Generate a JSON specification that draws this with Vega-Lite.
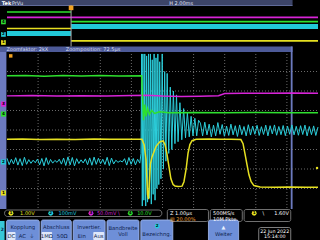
{
"$schema": "https://vega.github.io/schema/vega-lite/v6.json",
"width": 320, "height": 240, "autosize": "none", "padding": 0,
"background": "#000000",
"config": {"view": {"stroke": null}, "axis": {"disable": true}, "legend": {"disable": true}, "text": {"font": "DejaVu Sans", "fontSize": 5, "baseline": "middle"}},
"datasets": {
"main": [
{"c":"2","t":0.00,"v":-1.45},{"c":"2","t":0.07,"v":-1.78},{"c":"2","t":0.14,"v":-1.50},{"c":"2","t":0.21,"v":-1.74},{"c":"2","t":0.28,"v":-1.42},{"c":"2","t":0.35,"v":-1.80},{"c":"2","t":0.42,"v":-1.47},{"c":"2","t":0.49,"v":-1.83},{"c":"2","t":0.56,"v":-1.40},{"c":"2","t":0.63,"v":-1.76},{"c":"2","t":0.70,"v":-1.52},{"c":"2","t":0.77,"v":-1.71},{"c":"2","t":0.84,"v":-1.55},{"c":"2","t":0.91,"v":-1.68},{"c":"2","t":0.98,"v":-1.49},{"c":"2","t":1.05,"v":-1.79},{"c":"2","t":1.12,"v":-1.46},{"c":"2","t":1.19,"v":-1.84},{"c":"2","t":1.26,"v":-1.42},{"c":"2","t":1.33,"v":-1.77},{"c":"2","t":1.40,"v":-1.51},{"c":"2","t":1.47,"v":-1.70},{"c":"2","t":1.54,"v":-1.56},{"c":"2","t":1.61,"v":-1.66},{"c":"2","t":1.68,"v":-1.50},{"c":"2","t":1.75,"v":-1.75},{"c":"2","t":1.82,"v":-1.44},{"c":"2","t":1.89,"v":-1.82},{"c":"2","t":1.96,"v":-1.38},{"c":"2","t":2.03,"v":-1.79},{"c":"2","t":2.10,"v":-1.41},{"c":"2","t":2.17,"v":-1.84},{"c":"2","t":2.24,"v":-1.47},{"c":"2","t":2.31,"v":-1.72},{"c":"2","t":2.38,"v":-1.53},{"c":"2","t":2.45,"v":-1.69},{"c":"2","t":2.52,"v":-1.48},{"c":"2","t":2.59,"v":-1.78},{"c":"2","t":2.66,"v":-1.43},{"c":"2","t":2.73,"v":-1.81},{"c":"2","t":2.80,"v":-1.39},{"c":"2","t":2.87,"v":-1.76},{"c":"2","t":2.94,"v":-1.45},{"c":"2","t":3.01,"v":-1.73},{"c":"2","t":3.08,"v":-1.50},{"c":"2","t":3.15,"v":-1.77},{"c":"2","t":3.22,"v":-1.40},{"c":"2","t":3.29,"v":-1.83},{"c":"2","t":3.36,"v":-1.44},{"c":"2","t":3.43,"v":-1.74},{"c":"2","t":3.50,"v":-1.55},{"c":"2","t":3.57,"v":-1.66},{"c":"2","t":3.64,"v":-1.58},{"c":"2","t":3.71,"v":-1.64},{"c":"2","t":3.78,"v":-1.47},{"c":"2","t":3.85,"v":-1.80},{"c":"2","t":3.92,"v":-1.41},{"c":"2","t":3.99,"v":-1.76},{"c":"2","t":4.06,"v":-1.46},{"c":"2","t":4.13,"v":-1.79},{"c":"2","t":4.20,"v":-1.50},{"c":"2","t":4.27,"v":-1.70},
{"c":"2","t":4.31,"v":-1.2},{"c":"2","t":4.33,"v":3.9},{"c":"2","t":4.35,"v":-3.9},{"c":"2","t":4.37,"v":3.9},{"c":"2","t":4.40,"v":-3.6},{"c":"2","t":4.43,"v":3.9},{"c":"2","t":4.46,"v":-3.9},{"c":"2","t":4.49,"v":3.8},{"c":"2","t":4.52,"v":-3.7},{"c":"2","t":4.55,"v":3.9},{"c":"2","t":4.58,"v":-3.5},{"c":"2","t":4.61,"v":3.9},{"c":"2","t":4.64,"v":-3.8},{"c":"2","t":4.67,"v":3.6},{"c":"2","t":4.70,"v":-3.3},{"c":"2","t":4.73,"v":3.9},{"c":"2","t":4.76,"v":-3.6},{"c":"2","t":4.79,"v":3.7},{"c":"2","t":4.82,"v":-3.0},{"c":"2","t":4.85,"v":3.9},{"c":"2","t":4.88,"v":-2.8},{"c":"2","t":4.91,"v":3.5},{"c":"2","t":4.95,"v":-2.5},{"c":"2","t":4.99,"v":3.9},{"c":"2","t":5.03,"v":-2.0},{"c":"2","t":5.07,"v":3.0},{"c":"2","t":5.11,"v":-1.6},{"c":"2","t":5.15,"v":2.9},{"c":"2","t":5.20,"v":-1.2},{"c":"2","t":5.25,"v":2.2},{"c":"2","t":5.30,"v":-1.0},{"c":"2","t":5.35,"v":2.0},{"c":"2","t":5.40,"v":-0.7},{"c":"2","t":5.45,"v":1.8},{"c":"2","t":5.50,"v":-0.6},{"c":"2","t":5.56,"v":1.4},{"c":"2","t":5.62,"v":-0.5},{"c":"2","t":5.68,"v":1.1},{"c":"2","t":5.74,"v":-0.4},{"c":"2","t":5.80,"v":0.9},{"c":"2","t":5.86,"v":-0.35},{"c":"2","t":5.92,"v":0.7},{"c":"2","t":5.98,"v":-0.3},{"c":"2","t":6.04,"v":0.6},{"c":"2","t":6.10,"v":-0.3},{"c":"2","t":6.16,"v":0.5},
{"c":"2","t":6.22,"v":0.35},{"c":"2","t":6.29,"v":-0.30},{"c":"2","t":6.36,"v":0.40},{"c":"2","t":6.43,"v":-0.25},{"c":"2","t":6.50,"v":0.30},{"c":"2","t":6.57,"v":-0.35},{"c":"2","t":6.64,"v":0.25},{"c":"2","t":6.71,"v":-0.30},{"c":"2","t":6.78,"v":0.38},{"c":"2","t":6.85,"v":-0.22},{"c":"2","t":6.92,"v":0.28},{"c":"2","t":6.99,"v":-0.32},{"c":"2","t":7.06,"v":0.20},{"c":"2","t":7.13,"v":-0.28},{"c":"2","t":7.20,"v":0.30},{"c":"2","t":7.27,"v":-0.25},{"c":"2","t":7.34,"v":0.22},{"c":"2","t":7.41,"v":-0.33},{"c":"2","t":7.48,"v":0.26},{"c":"2","t":7.55,"v":-0.24},{"c":"2","t":7.62,"v":0.18},{"c":"2","t":7.69,"v":-0.30},{"c":"2","t":7.76,"v":0.27},{"c":"2","t":7.83,"v":-0.26},{"c":"2","t":7.90,"v":0.20},{"c":"2","t":7.97,"v":-0.22},{"c":"2","t":8.04,"v":0.24},{"c":"2","t":8.11,"v":-0.28},{"c":"2","t":8.18,"v":0.17},{"c":"2","t":8.25,"v":-0.23},{"c":"2","t":8.32,"v":0.25},{"c":"2","t":8.39,"v":-0.30},{"c":"2","t":8.46,"v":0.22},{"c":"2","t":8.53,"v":-0.20},{"c":"2","t":8.60,"v":0.26},{"c":"2","t":8.67,"v":-0.27},{"c":"2","t":8.74,"v":0.18},{"c":"2","t":8.81,"v":-0.24},{"c":"2","t":8.88,"v":0.23},{"c":"2","t":8.95,"v":-0.29},{"c":"2","t":9.02,"v":0.20},{"c":"2","t":9.09,"v":-0.22},{"c":"2","t":9.16,"v":0.26},{"c":"2","t":9.23,"v":-0.25},{"c":"2","t":9.30,"v":0.19},{"c":"2","t":9.37,"v":-0.27},{"c":"2","t":9.44,"v":0.22},{"c":"2","t":9.51,"v":-0.23},{"c":"2","t":9.58,"v":0.25},{"c":"2","t":9.65,"v":-0.30},{"c":"2","t":9.72,"v":0.18},{"c":"2","t":9.79,"v":-0.24},{"c":"2","t":9.86,"v":0.21},{"c":"2","t":9.93,"v":-0.28},{"c":"2","t":10.00,"v":0.15},
{"c":"1","t":0,"v":-0.48},{"c":"1","t":0.5,"v":-0.46},{"c":"1","t":1.06,"v":-0.49},{"c":"1","t":1.6,"v":-0.47},{"c":"1","t":2.19,"v":-0.49},{"c":"1","t":2.8,"v":-0.46},{"c":"1","t":3.31,"v":-0.48},{"c":"1","t":3.9,"v":-0.47},{"c":"1","t":4.34,"v":-0.48},{"c":"1","t":4.41,"v":-0.75},{"c":"1","t":4.47,"v":-1.5},{"c":"1","t":4.52,"v":-3.3},{"c":"1","t":4.55,"v":-3.55},{"c":"1","t":4.58,"v":-2.6},{"c":"1","t":4.61,"v":-1.75},{"c":"1","t":4.66,"v":-1.4},{"c":"1","t":4.73,"v":-1.1},{"c":"1","t":4.79,"v":-0.85},{"c":"1","t":4.86,"v":-0.7},{"c":"1","t":4.92,"v":-0.6},{"c":"1","t":5.02,"v":-0.56},{"c":"1","t":5.08,"v":-0.75},{"c":"1","t":5.14,"v":-1.2},{"c":"1","t":5.21,"v":-1.9},{"c":"1","t":5.27,"v":-2.5},{"c":"1","t":5.34,"v":-2.8},{"c":"1","t":5.4,"v":-2.87},{"c":"1","t":5.5,"v":-2.9},{"c":"1","t":5.63,"v":-2.88},{"c":"1","t":5.69,"v":-2.65},{"c":"1","t":5.76,"v":-2.0},{"c":"1","t":5.82,"v":-1.2},{"c":"1","t":5.88,"v":-0.75},{"c":"1","t":5.95,"v":-0.55},{"c":"1","t":6.08,"v":-0.48},{"c":"1","t":6.5,"v":-0.46},{"c":"1","t":6.85,"v":-0.47},{"c":"1","t":7.2,"v":-0.48},{"c":"1","t":7.52,"v":-0.49},{"c":"1","t":7.59,"v":-0.7},{"c":"1","t":7.65,"v":-1.2},{"c":"1","t":7.72,"v":-1.8},{"c":"1","t":7.78,"v":-2.3},{"c":"1","t":7.85,"v":-2.65},{"c":"1","t":7.94,"v":-2.85},{"c":"1","t":8.14,"v":-2.92},{"c":"1","t":8.6,"v":-2.93},{"c":"1","t":9.1,"v":-2.92},{"c":"1","t":9.6,"v":-2.94},{"c":"1","t":10,"v":-2.93},
{"c":"3","t":0,"v":1.75},{"c":"3","t":0.8,"v":1.77},{"c":"3","t":1.6,"v":1.74},{"c":"3","t":2.4,"v":1.76},{"c":"3","t":3.2,"v":1.75},{"c":"3","t":4.0,"v":1.77},{"c":"3","t":4.5,"v":1.78},{"c":"3","t":5.0,"v":1.74},{"c":"3","t":5.6,"v":1.72},{"c":"3","t":6.2,"v":1.73},{"c":"3","t":6.8,"v":1.76},{"c":"3","t":7.0,"v":1.87},{"c":"3","t":7.6,"v":1.89},{"c":"3","t":8.4,"v":1.88},{"c":"3","t":9.2,"v":1.9},{"c":"3","t":10,"v":1.89},
{"c":"4","t":0,"v":2.78},{"c":"4","t":0.6,"v":2.8},{"c":"4","t":1.2,"v":2.76},{"c":"4","t":1.8,"v":2.79},{"c":"4","t":2.4,"v":2.77},{"c":"4","t":3.0,"v":2.8},{"c":"4","t":3.6,"v":2.77},{"c":"4","t":4.33,"v":2.78},{"c":"4","t":4.36,"v":1.6},{"c":"4","t":4.39,"v":0.5},{"c":"4","t":4.43,"v":1.3},{"c":"4","t":4.47,"v":0.7},{"c":"4","t":4.52,"v":1.1},{"c":"4","t":4.58,"v":0.8},{"c":"4","t":4.65,"v":1.0},{"c":"4","t":4.75,"v":0.85},{"c":"4","t":4.9,"v":0.93},{"c":"4","t":5.2,"v":0.88},{"c":"4","t":6,"v":0.9},{"c":"4","t":7,"v":0.88},{"c":"4","t":8,"v":0.9},{"c":"4","t":9,"v":0.89},{"c":"4","t":10,"v":0.89}
],
"ov": [
{"c":"3","s":"a","t":0,"v":1.72},{"c":"3","s":"a","t":20,"v":1.72},
{"c":"1","s":"a","t":0,"v":-0.48},{"c":"1","s":"a","t":4.12,"v":-0.48},{"c":"1","s":"b","t":4.12,"v":-2.92},{"c":"1","s":"b","t":20,"v":-2.92},
{"c":"4","s":"a","t":0,"v":2.78},{"c":"4","s":"a","t":4.12,"v":2.78},{"c":"4","s":"b","t":4.12,"v":0.89},{"c":"4","s":"b","t":20,"v":0.89}
],
"band": [{"t0":0,"t1":4.12,"lo":-1.95,"hi":-0.97},{"t0":4.12,"t1":20,"lo":-0.57,"hi":0.41}],
"offs": [{"c":"3","off":1.33},{"c":"4","off":0.82},{"c":"2","off":-1.64},{"c":"1","off":-3.23}],
"ooffs": [{"c":"4","off":0.82},{"c":"2","off":-1.64},{"c":"1","off":-3.23}],
"gx": [{"g":1},{"g":2},{"g":3},{"g":4},{"g":5},{"g":6},{"g":7},{"g":8},{"g":9}],
"gy": [{"g":-3},{"g":-2},{"g":-1},{"g":0},{"g":1},{"g":2},{"g":3}]
},
"resolve": {"scale": {"x": "independent", "y": "independent"}},
"layer": [
{
"data": {"values": [{}]},
"layer": [
{"mark": {"type": "rect", "fill": "#3c4468"}, "encoding": {"x": {"datum": 0, "scale": {"domain": [0, 320], "range": [0, 320]}}, "x2": {"datum": 320}, "y": {"datum": 0, "scale": {"domain": [0, 240], "range": [0, 240]}}, "y2": {"datum": 5.2}}},
{"mark": {"type": "rect", "fill": "#7d8ac6"}, "encoding": {"x": {"datum": 0}, "x2": {"datum": 320}, "y": {"datum": 5.2}, "y2": {"datum": 5.9}}},
{"mark": {"type": "rect", "fill": "#4d5a98"}, "encoding": {"x": {"datum": 0}, "x2": {"datum": 320}, "y": {"datum": 46.5}, "y2": {"datum": 52}}},
{"mark": {"type": "rect", "fill": "#6c7abf"}, "encoding": {"x": {"datum": 0}, "x2": {"datum": 7}, "y": {"datum": 52}, "y2": {"datum": 209}}},
{"mark": {"type": "rect", "fill": "#6c7abf"}, "encoding": {"x": {"datum": 318}, "x2": {"datum": 320}, "y": {"datum": 46.5}, "y2": {"datum": 209}}},
{"mark": {"type": "rect", "fill": "#000000", "stroke": "#8c8c8c", "strokeWidth": 0.8, "cornerRadius": 3}, "encoding": {"x": {"datum": 5}, "x2": {"datum": 177}, "y": {"datum": 210}, "y2": {"datum": 216.5}}},
{"mark": {"type": "rect", "fill": "#000000", "stroke": "#8c8c8c", "strokeWidth": 0.8, "cornerRadius": 2}, "encoding": {"x": {"datum": 183}, "x2": {"datum": 228}, "y": {"datum": 209.5}, "y2": {"datum": 221.5}}},
{"mark": {"type": "rect", "fill": "#000000", "stroke": "#8c8c8c", "strokeWidth": 0.8, "cornerRadius": 2}, "encoding": {"x": {"datum": 230}, "x2": {"datum": 265}, "y": {"datum": 209.5}, "y2": {"datum": 221.5}}},
{"mark": {"type": "rect", "fill": "#000000", "stroke": "#8c8c8c", "strokeWidth": 0.8, "cornerRadius": 2}, "encoding": {"x": {"datum": 267}, "x2": {"datum": 318}, "y": {"datum": 209.5}, "y2": {"datum": 221.5}}},
{"mark": {"type": "rect", "fill": "#6e8fd8", "stroke": "#a6bdf2", "strokeWidth": 0.8, "cornerRadius": 2}, "encoding": {"x": {"datum": 7}, "x2": {"datum": 43}, "y": {"datum": 220}, "y2": {"datum": 242}}},
{"mark": {"type": "rect", "fill": "#6e8fd8", "stroke": "#a6bdf2", "strokeWidth": 0.8, "cornerRadius": 2}, "encoding": {"x": {"datum": 45}, "x2": {"datum": 78}, "y": {"datum": 220}, "y2": {"datum": 242}}},
{"mark": {"type": "rect", "fill": "#6e8fd8", "stroke": "#a6bdf2", "strokeWidth": 0.8, "cornerRadius": 2}, "encoding": {"x": {"datum": 80}, "x2": {"datum": 115}, "y": {"datum": 220}, "y2": {"datum": 242}}},
{"mark": {"type": "rect", "fill": "#6e8fd8", "stroke": "#a6bdf2", "strokeWidth": 0.8, "cornerRadius": 2}, "encoding": {"x": {"datum": 117}, "x2": {"datum": 152}, "y": {"datum": 220}, "y2": {"datum": 242}}},
{"mark": {"type": "rect", "fill": "#6e8fd8", "stroke": "#a6bdf2", "strokeWidth": 0.8, "cornerRadius": 2}, "encoding": {"x": {"datum": 154}, "x2": {"datum": 189}, "y": {"datum": 220}, "y2": {"datum": 242}}},
{"mark": {"type": "rect", "fill": "#6e8fd8", "stroke": "#a6bdf2", "strokeWidth": 0.8, "cornerRadius": 2}, "encoding": {"x": {"datum": 228}, "x2": {"datum": 261}, "y": {"datum": 220}, "y2": {"datum": 242}}},
{"mark": {"type": "rect", "fill": "#000000", "stroke": "#a0a0a0", "strokeWidth": 0.8, "cornerRadius": 2}, "encoding": {"x": {"datum": 283}, "x2": {"datum": 318}, "y": {"datum": 227.5}, "y2": {"datum": 242}}},
{"mark": {"type": "rect", "fill": "#38c8d8"}, "encoding": {"x": {"datum": 0}, "x2": {"datum": 5}, "y": {"datum": 221}, "y2": {"datum": 240}}},
{"mark": {"type": "rect", "fill": "#e0e8fa", "cornerRadius": 1}, "encoding": {"x": {"datum": 8}, "x2": {"datum": 17}, "y": {"datum": 232}, "y2": {"datum": 240}}},
{"mark": {"type": "rect", "fill": "#e0e8fa", "cornerRadius": 1}, "encoding": {"x": {"datum": 45.5}, "x2": {"datum": 57}, "y": {"datum": 232}, "y2": {"datum": 240}}},
{"mark": {"type": "rect", "fill": "#e0e8fa", "cornerRadius": 1}, "encoding": {"x": {"datum": 102}, "x2": {"datum": 114}, "y": {"datum": 232}, "y2": {"datum": 240}}},
{"mark": {"type": "point", "shape": "circle", "filled": true, "size": 24, "opacity": 1, "color": "#e6e021"}, "encoding": {"x": {"datum": 12}, "y": {"datum": 213.3}}},
{"mark": {"type": "point", "shape": "circle", "filled": true, "size": 24, "opacity": 1, "color": "#22d0e0"}, "encoding": {"x": {"datum": 55.5}, "y": {"datum": 213.3}}},
{"mark": {"type": "point", "shape": "circle", "filled": true, "size": 24, "opacity": 1, "color": "#d824d8"}, "encoding": {"x": {"datum": 99.5}, "y": {"datum": 213.3}}},
{"mark": {"type": "point", "shape": "circle", "filled": true, "size": 24, "opacity": 1, "color": "#2ee02e"}, "encoding": {"x": {"datum": 142.5}, "y": {"datum": 213.3}}},
{"mark": {"type": "point", "shape": "circle", "filled": true, "size": 24, "opacity": 1, "color": "#e6e021"}, "encoding": {"x": {"datum": 278}, "y": {"datum": 213.3}}},
{"mark": {"type": "point", "shape": "circle", "filled": true, "size": 24, "opacity": 1, "color": "#22d0e0"}, "encoding": {"x": {"datum": 172}, "y": {"datum": 226}}},
{"mark": {"type": "text", "color": "#000000", "fontSize": 4.2, "fontWeight": "bold", "align": "center"}, "encoding": {"x": {"datum": 12}, "y": {"datum": 213.4}, "text": {"value": "1"}}},
{"mark": {"type": "text", "color": "#000000", "fontSize": 4.2, "fontWeight": "bold", "align": "center"}, "encoding": {"x": {"datum": 55.5}, "y": {"datum": 213.4}, "text": {"value": "2"}}},
{"mark": {"type": "text", "color": "#000000", "fontSize": 4.2, "fontWeight": "bold", "align": "center"}, "encoding": {"x": {"datum": 99.5}, "y": {"datum": 213.4}, "text": {"value": "3"}}},
{"mark": {"type": "text", "color": "#000000", "fontSize": 4.2, "fontWeight": "bold", "align": "center"}, "encoding": {"x": {"datum": 142.5}, "y": {"datum": 213.4}, "text": {"value": "4"}}},
{"mark": {"type": "text", "color": "#000000", "fontSize": 4.2, "fontWeight": "bold", "align": "center"}, "encoding": {"x": {"datum": 278}, "y": {"datum": 213.4}, "text": {"value": "1"}}},
{"mark": {"type": "text", "color": "#000000", "fontSize": 4.2, "fontWeight": "bold", "align": "center"}, "encoding": {"x": {"datum": 172}, "y": {"datum": 226.1}, "text": {"value": "2"}}},
{"mark": {"type": "text", "color": "#ffffff", "fontWeight": "bold", "align": "left"}, "encoding": {"x": {"datum": 2}, "y": {"datum": 2.8}, "text": {"value": "Tek"}}},
{"mark": {"type": "text", "color": "#e0e4f4", "align": "left"}, "encoding": {"x": {"datum": 13}, "y": {"datum": 2.8}, "text": {"value": "PrVu"}}},
{"mark": {"type": "text", "color": "#e0e4f4", "align": "left"}, "encoding": {"x": {"datum": 185}, "y": {"datum": 2.8}, "text": {"value": "H 2.00ms"}}},
{"mark": {"type": "text", "color": "#d8def2", "align": "left"}, "encoding": {"x": {"datum": 7}, "y": {"datum": 49.4}, "text": {"value": "Zoomfaktor: 2kX"}}},
{"mark": {"type": "text", "color": "#d8def2", "align": "left"}, "encoding": {"x": {"datum": 72}, "y": {"datum": 49.4}, "text": {"value": "Zoomposition: 72.5µs"}}},
{"mark": {"type": "text", "color": "#e6e021", "align": "left"}, "encoding": {"x": {"datum": 22}, "y": {"datum": 213.4}, "text": {"value": "1.00V"}}},
{"mark": {"type": "text", "color": "#22d0e0", "align": "left"}, "encoding": {"x": {"datum": 64}, "y": {"datum": 213.4}, "text": {"value": "100mV"}}},
{"mark": {"type": "text", "color": "#d824d8", "align": "left"}, "encoding": {"x": {"datum": 106}, "y": {"datum": 213.4}, "text": {"value": "50.0mV"}}},
{"mark": {"type": "text", "color": "#d824d8", "align": "left"}, "encoding": {"x": {"datum": 129}, "y": {"datum": 213.4}, "text": {"value": "\\"}}},
{"mark": {"type": "text", "color": "#2ee02e", "align": "left"}, "encoding": {"x": {"datum": 150}, "y": {"datum": 213.4}, "text": {"value": "10.0V"}}},
{"mark": {"type": "text", "color": "#ffffff", "align": "left"}, "encoding": {"x": {"datum": 186}, "y": {"datum": 213}, "text": {"value": "Z 1.00µs"}}},
{"mark": {"type": "text", "color": "#f0a030", "align": "left"}, "encoding": {"x": {"datum": 186}, "y": {"datum": 218.6}, "text": {"value": "▥ 20.00%"}}},
{"mark": {"type": "text", "color": "#ffffff", "align": "left"}, "encoding": {"x": {"datum": 233}, "y": {"datum": 213}, "text": {"value": "500MS/s"}}},
{"mark": {"type": "text", "color": "#ffffff", "align": "left"}, "encoding": {"x": {"datum": 233}, "y": {"datum": 218.6}, "text": {"value": "10M Pkte."}}},
{"mark": {"type": "text", "color": "#ffffff", "align": "left"}, "encoding": {"x": {"datum": 287}, "y": {"datum": 213.4}, "text": {"value": "\\"}}},
{"mark": {"type": "text", "color": "#ffffff", "align": "right"}, "encoding": {"x": {"datum": 316}, "y": {"datum": 213.4}, "text": {"value": "1.60V"}}},
{"mark": {"type": "text", "color": "#0f1f4f", "align": "center", "fontSize": 5.3}, "encoding": {"x": {"datum": 25}, "y": {"datum": 226.5}, "text": {"value": "Kopplung"}}},
{"mark": {"type": "text", "color": "#0f1f4f", "align": "center", "fontSize": 5.3}, "encoding": {"x": {"datum": 12.5}, "y": {"datum": 236}, "text": {"value": "DC"}}},
{"mark": {"type": "text", "color": "#0f1f4f", "align": "center", "fontSize": 5.3}, "encoding": {"x": {"datum": 24.5}, "y": {"datum": 236}, "text": {"value": "AC"}}},
{"mark": {"type": "text", "color": "#0f1f4f", "align": "center", "fontSize": 5.3}, "encoding": {"x": {"datum": 35.5}, "y": {"datum": 236}, "text": {"value": "⏚"}}},
{"mark": {"type": "text", "color": "#0f1f4f", "align": "center", "fontSize": 5.3}, "encoding": {"x": {"datum": 61.5}, "y": {"datum": 226.5}, "text": {"value": "Abschluss"}}},
{"mark": {"type": "text", "color": "#0f1f4f", "align": "center", "fontSize": 5.3}, "encoding": {"x": {"datum": 51.2}, "y": {"datum": 236}, "text": {"value": "1MΩ"}}},
{"mark": {"type": "text", "color": "#0f1f4f", "align": "center", "fontSize": 5.3}, "encoding": {"x": {"datum": 68}, "y": {"datum": 236}, "text": {"value": "50Ω"}}},
{"mark": {"type": "text", "color": "#0f1f4f", "align": "center", "fontSize": 5.3}, "encoding": {"x": {"datum": 97.5}, "y": {"datum": 226.5}, "text": {"value": "Invertier."}}},
{"mark": {"type": "text", "color": "#0f1f4f", "align": "center", "fontSize": 5.3}, "encoding": {"x": {"datum": 89.5}, "y": {"datum": 236}, "text": {"value": "Ein"}}},
{"mark": {"type": "text", "color": "#0f1f4f", "align": "center", "fontSize": 5.3}, "encoding": {"x": {"datum": 108}, "y": {"datum": 236}, "text": {"value": "Aus"}}},
{"mark": {"type": "text", "color": "#0f1f4f", "align": "center", "fontSize": 5.3}, "encoding": {"x": {"datum": 134.5}, "y": {"datum": 227.5}, "text": {"value": "Bandbreite"}}},
{"mark": {"type": "text", "color": "#0f1f4f", "align": "center", "fontSize": 5.3}, "encoding": {"x": {"datum": 134.5}, "y": {"datum": 233.5}, "text": {"value": "Voll"}}},
{"mark": {"type": "text", "color": "#0f1f4f", "align": "center", "fontSize": 5.3}, "encoding": {"x": {"datum": 171.5}, "y": {"datum": 234}, "text": {"value": "Bezeichng."}}},
{"mark": {"type": "text", "color": "#e8f0ff", "align": "center", "fontSize": 5}, "encoding": {"x": {"datum": 244.5}, "y": {"datum": 227}, "text": {"value": "▲"}}},
{"mark": {"type": "text", "color": "#0f1f4f", "align": "center", "fontSize": 5.3}, "encoding": {"x": {"datum": 244.5}, "y": {"datum": 233.5}, "text": {"value": "Weiter"}}},
{"mark": {"type": "text", "color": "#ffffff", "align": "center", "fontSize": 4.8}, "encoding": {"x": {"datum": 300.5}, "y": {"datum": 231.5}, "text": {"value": "22 Jun 2022"}}},
{"mark": {"type": "text", "color": "#ffffff", "align": "center", "fontSize": 4.8}, "encoding": {"x": {"datum": 300.5}, "y": {"datum": 237.3}, "text": {"value": "15:14:00"}}},
{"mark": {"type": "text", "color": "#0f1f4f", "align": "center", "fontSize": 4.5, "fontWeight": "bold"}, "encoding": {"x": {"datum": 2.5}, "y": {"datum": 230}, "text": {"value": "2"}}}
]
},
{
"layer": [
{"data": {"name": "band"}, "mark": {"type": "rect", "fill": "#22c8d8"}, "encoding": {"x": {"field": "t0", "type": "quantitative", "scale": {"domain": [0, 20], "range": [7, 318]}}, "x2": {"field": "t1"}, "y": {"field": "lo", "type": "quantitative", "scale": {"domain": [-4, 4], "range": [46.4, 5.8]}}, "y2": {"field": "hi"}}},
{"data": {"name": "ov"}, "mark": {"type": "line", "strokeWidth": 1.6}, "encoding": {"x": {"field": "t", "type": "quantitative"}, "y": {"field": "v", "type": "quantitative"}, "detail": {"field": "s"}, "color": {"field": "c", "type": "nominal", "scale": {"domain": ["1", "2", "3", "4"], "range": ["#e6e021", "#22c8d8", "#d824d8", "#2ee02e"]}}}},
{"data": {"values": [{}]}, "mark": {"type": "rule", "color": "#a8a8a8", "strokeWidth": 1}, "encoding": {"x": {"datum": 4.12}, "y": {"datum": 4.15}, "y2": {"datum": -4}}},
{"data": {"values": [{}]}, "mark": {"type": "point", "shape": "square", "filled": true, "opacity": 1, "size": 22, "color": "#f0a020"}, "encoding": {"x": {"datum": 4.12}, "y": {"datum": 3.6}}},
{"data": {"name": "ooffs"}, "mark": {"type": "point", "shape": "square", "filled": true, "opacity": 1, "size": 22}, "encoding": {"x": {"datum": -0.23}, "y": {"field": "off", "type": "quantitative"}, "color": {"field": "c", "type": "nominal"}}},
{"data": {"name": "ooffs"}, "mark": {"type": "text", "color": "#000000", "fontSize": 4, "fontWeight": "bold", "align": "center"}, "encoding": {"x": {"datum": -0.23}, "y": {"field": "off", "type": "quantitative"}, "text": {"field": "c"}}}
]
},
{
"layer": [
{"data": {"name": "gx"}, "mark": {"type": "rule", "color": "#6a6a6a", "strokeDash": [1, 2], "strokeWidth": 1}, "encoding": {"x": {"field": "g", "type": "quantitative", "scale": {"domain": [0, 10], "range": [7, 318]}}, "y": {"datum": -4, "scale": {"domain": [-4, 4], "range": [208, 52]}}, "y2": {"datum": 4}}},
{"data": {"name": "gy"}, "mark": {"type": "rule", "color": "#6a6a6a", "strokeDash": [1, 2], "strokeWidth": 1}, "encoding": {"y": {"field": "g", "type": "quantitative"}, "x": {"datum": 0}, "x2": {"datum": 10}}},
{"data": {"name": "main"}, "transform": [{"filter": "datum.c == '2'"}], "mark": {"type": "line", "strokeWidth": 1, "color": "#2ccfdc"}, "encoding": {"x": {"field": "t", "type": "quantitative"}, "y": {"field": "v", "type": "quantitative"}}},
{"data": {"name": "main"}, "transform": [{"filter": "datum.c != '2'"}], "mark": {"type": "line", "strokeWidth": 1.5}, "encoding": {"x": {"field": "t", "type": "quantitative"}, "y": {"field": "v", "type": "quantitative"}, "color": {"field": "c", "type": "nominal"}}},
{"data": {"name": "offs"}, "mark": {"type": "point", "shape": "square", "filled": true, "opacity": 1, "size": 26}, "encoding": {"x": {"datum": -0.115}, "y": {"field": "off", "type": "quantitative"}, "color": {"field": "c", "type": "nominal"}}},
{"data": {"name": "offs"}, "mark": {"type": "text", "color": "#000000", "fontSize": 4.2, "fontWeight": "bold", "align": "center"}, "encoding": {"x": {"datum": -0.115}, "y": {"field": "off", "type": "quantitative"}, "text": {"field": "c"}}},
{"data": {"values": [{}]}, "mark": {"type": "point", "shape": "square", "filled": true, "opacity": 1, "size": 12, "color": "#f0a020"}, "encoding": {"x": {"datum": 0.12}, "y": {"datum": 3.8}}},
{"data": {"values": [{}]}, "mark": {"type": "point", "shape": "circle", "filled": true, "opacity": 1, "size": 6, "color": "#e6e021"}, "encoding": {"x": {"datum": 9.97}, "y": {"datum": -1.95}}}
]
}
]
}
